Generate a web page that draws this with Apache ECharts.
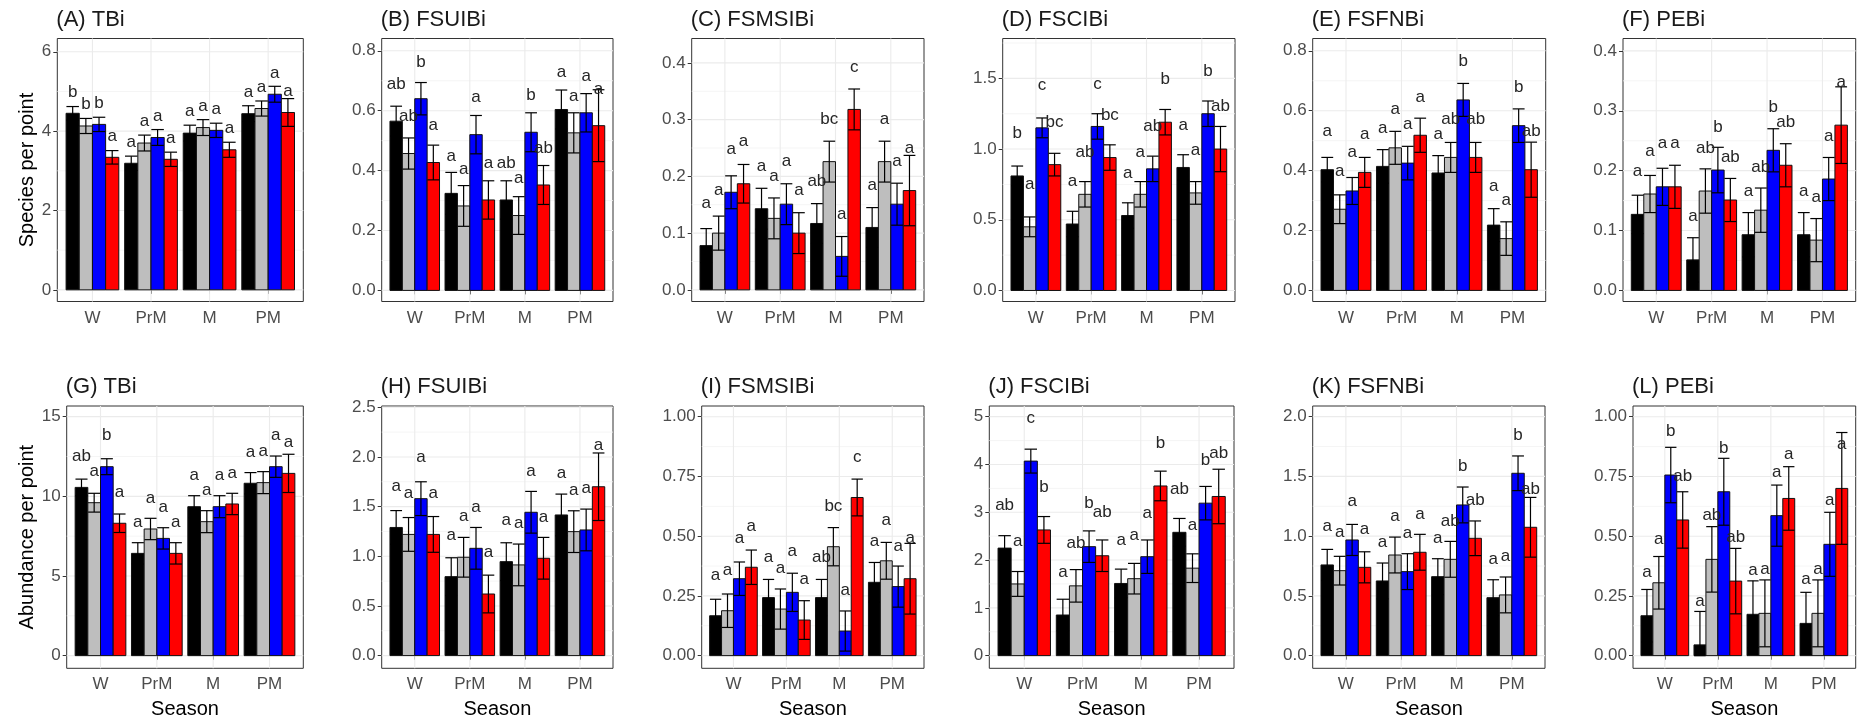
<!DOCTYPE html>
<html><head><meta charset="utf-8">
<script src="https://cdn.jsdelivr.net/npm/echarts@6/dist/echarts.min.js"></script>
<style>html,body{margin:0;padding:0;background:#fff}#c{width:1859px;height:722px}</style>
</head><body><div id="c"></div>
<script>
// ---------------- DATA ----------------
const seasons = ['W', 'PrM', 'M', 'PM'];
// each row = one season; columns = treatments (black, grey, blue, red)
const meanA = [[4.45, 4.13, 4.17, 3.34], [3.19, 3.70, 3.84, 3.29], [3.95, 4.09, 4.02, 3.53], [4.44, 4.57, 4.93, 4.47]];
const seA   = [[0.17, 0.19, 0.18, 0.17], [0.18, 0.20, 0.20, 0.18], [0.20, 0.20, 0.18, 0.19], [0.20, 0.19, 0.20, 0.35]];
const letA  = [['b', 'b', 'b', 'a'], ['a', 'a', 'a', 'a'], ['a', 'a', 'a', 'a'], ['a', 'a', 'a', 'a']];

const meanB = [[0.565, 0.457, 0.640, 0.427], [0.324, 0.282, 0.520, 0.302], [0.302, 0.250, 0.528, 0.352], [0.604, 0.526, 0.593, 0.550]];
const seB   = [[0.050, 0.052, 0.054, 0.058], [0.070, 0.068, 0.064, 0.064], [0.064, 0.063, 0.065, 0.065], [0.065, 0.067, 0.064, 0.120]];
const letB  = [['ab', 'ab', 'b', 'a'], ['a', 'a', 'a', 'a'], ['ab', 'a', 'b', 'ab'], ['a', 'a', 'a', 'a']];

const meanC = [[0.078, 0.100, 0.172, 0.187], [0.143, 0.126, 0.151, 0.100], [0.117, 0.226, 0.059, 0.318], [0.110, 0.226, 0.151, 0.175]];
const seC   = [[0.030, 0.030, 0.029, 0.034], [0.036, 0.036, 0.036, 0.036], [0.035, 0.036, 0.035, 0.036], [0.035, 0.036, 0.037, 0.062]];
const letC  = [['a', 'a', 'a', 'a'], ['a', 'a', 'a', 'a'], ['ab', 'bc', 'a', 'c'], ['a', 'a', 'a', 'a']];

const meanD = [[0.81, 0.45, 1.15, 0.89], [0.47, 0.68, 1.16, 0.94], [0.53, 0.68, 0.86, 1.19], [0.87, 0.69, 1.25, 1.00]];
const seD   = [[0.07, 0.07, 0.07, 0.08], [0.09, 0.09, 0.09, 0.09], [0.09, 0.09, 0.09, 0.09], [0.09, 0.08, 0.09, 0.16]];
const letD  = [['b', 'a', 'c', 'bc'], ['a', 'ab', 'c', 'bc'], ['a', 'a', 'ab', 'b'], ['a', 'a', 'b', 'ab']];

const meanE = [[0.403, 0.271, 0.332, 0.394], [0.414, 0.476, 0.425, 0.518], [0.392, 0.444, 0.636, 0.444], [0.218, 0.173, 0.550, 0.403]];
const seE   = [[0.041, 0.048, 0.045, 0.050], [0.056, 0.055, 0.056, 0.057], [0.058, 0.050, 0.055, 0.050], [0.055, 0.056, 0.056, 0.092]];
const letE  = [['a', 'a', 'a', 'a'], ['a', 'a', 'a', 'a'], ['a', 'ab', 'b', 'ab'], ['a', 'a', 'b', 'ab']];

const meanF = [[0.127, 0.161, 0.173, 0.173], [0.051, 0.166, 0.201, 0.151], [0.093, 0.134, 0.234, 0.209], [0.093, 0.084, 0.186, 0.276]];
const seF   = [[0.032, 0.031, 0.031, 0.036], [0.037, 0.037, 0.038, 0.036], [0.037, 0.037, 0.036, 0.036], [0.037, 0.036, 0.036, 0.064]];
const letF  = [['a', 'a', 'a', 'a'], ['a', 'ab', 'b', 'ab'], ['a', 'ab', 'b', 'ab'], ['a', 'a', 'a', 'a']];

const meanG = [[10.56, 9.60, 11.86, 8.31], [6.42, 7.95, 7.36, 6.42], [9.35, 8.41, 9.35, 9.52], [10.82, 10.86, 11.86, 11.44]];
const seG   = [[0.52, 0.59, 0.50, 0.58], [0.67, 0.67, 0.67, 0.67], [0.69, 0.69, 0.69, 0.67], [0.67, 0.69, 0.67, 1.20]];
const letG  = [['ab', 'a', 'b', 'a'], ['a', 'a', 'a', 'a'], ['a', 'a', 'a', 'a'], ['a', 'a', 'a', 'a']];

const meanH = [[1.29, 1.22, 1.58, 1.22], [0.795, 0.99, 1.08, 0.62], [0.946, 0.913, 1.443, 0.98], [1.416, 1.248, 1.265, 1.70]];
const seH   = [[0.17, 0.17, 0.17, 0.18], [0.19, 0.20, 0.21, 0.19], [0.19, 0.21, 0.21, 0.21], [0.21, 0.21, 0.21, 0.34]];
const letH  = [['a', 'a', 'a', 'a'], ['a', 'a', 'a', 'a'], ['a', 'a', 'a', 'a'], ['a', 'a', 'a', 'a']];

const meanI = [[0.167, 0.188, 0.322, 0.370], [0.243, 0.195, 0.265, 0.149], [0.243, 0.456, 0.103, 0.662], [0.307, 0.397, 0.289, 0.322]];
const seI   = [[0.069, 0.070, 0.070, 0.072], [0.076, 0.084, 0.080, 0.081], [0.076, 0.080, 0.084, 0.077], [0.083, 0.077, 0.086, 0.148]];
const letI  = [['a', 'a', 'a', 'a'], ['a', 'a', 'a', 'a'], ['ab', 'bc', 'a', 'c'], ['a', 'a', 'a', 'a']];

const meanJ = [[2.25, 1.50, 4.07, 2.63], [0.85, 1.46, 2.28, 2.09], [1.51, 1.61, 2.07, 3.55], [2.58, 1.83, 3.19, 3.33]];
const seJ   = [[0.26, 0.26, 0.25, 0.28], [0.33, 0.34, 0.33, 0.33], [0.30, 0.32, 0.35, 0.31], [0.29, 0.30, 0.35, 0.57]];
const letJ  = [['ab', 'a', 'c', 'b'], ['a', 'ab', 'b', 'ab'], ['a', 'a', 'a', 'b'], ['ab', 'a', 'b', 'ab']];

const meanK = [[0.759, 0.711, 0.968, 0.739], [0.625, 0.842, 0.703, 0.865], [0.661, 0.806, 1.261, 0.982], [0.485, 0.508, 1.526, 1.074]];
const seK   = [[0.13, 0.12, 0.13, 0.13], [0.15, 0.15, 0.15, 0.15], [0.15, 0.15, 0.15, 0.145], [0.15, 0.15, 0.145, 0.25]];
const letK  = [['a', 'a', 'a', 'a'], ['a', 'a', 'a', 'a'], ['a', 'ab', 'b', 'ab'], ['a', 'a', 'b', 'ab']];

const meanL = [[0.167, 0.305, 0.756, 0.568], [0.045, 0.403, 0.686, 0.312], [0.173, 0.177, 0.586, 0.658], [0.135, 0.177, 0.466, 0.700]];
const seL   = [[0.110, 0.110, 0.116, 0.118], [0.140, 0.137, 0.140, 0.137], [0.140, 0.140, 0.128, 0.133], [0.130, 0.140, 0.134, 0.234]];
const letL  = [['a', 'a', 'b', 'ab'], ['a', 'ab', 'b', 'ab'], ['a', 'a', 'a', 'a'], ['a', 'a', 'a', 'a']];

// tick values and labels
const ticks6    = [0, 2, 4, 6];          const tickLab6    = ['0', '2', '4', '6'];
const ticks08   = [0, 0.2, 0.4, 0.6, 0.8]; const tickLab08 = ['0.0', '0.2', '0.4', '0.6', '0.8'];
const ticks04   = [0, 0.1, 0.2, 0.3, 0.4]; const tickLab04 = ['0.0', '0.1', '0.2', '0.3', '0.4'];
const ticks15   = [0, 0.5, 1, 1.5];        const tickLab15 = ['0.0', '0.5', '1.0', '1.5'];
const ticks15b  = [0, 5, 10, 15];          const tickLab15b = ['0', '5', '10', '15'];
const ticks25   = [0, 0.5, 1, 1.5, 2, 2.5]; const tickLab25 = ['0.0', '0.5', '1.0', '1.5', '2.0', '2.5'];
const ticks100  = [0, 0.25, 0.5, 0.75, 1]; const tickLab100 = ['0.00', '0.25', '0.50', '0.75', '1.00'];
const ticks5    = [0, 1, 2, 3, 4, 5];      const tickLab5 = ['0', '1', '2', '3', '4', '5'];
const ticks20   = [0, 0.5, 1, 1.5, 2];     const tickLab20 = ['0.0', '0.5', '1.0', '1.5', '2.0'];

// ---------------- LAYOUT / STYLE ----------------
const FONT = 'Liberation Sans, Arial, Helvetica, sans-serif';
const fills = ['#000000', '#BEBEBE', '#0000FF', '#FF0000'];
const DODGE = 0.225, HALF = 0.1125;

const panels = [
  {title: '(A) TBi',    mean: meanA, se: seA, lets: letA, ticks: ticks6,   labs: tickLab6,   range: [-0.294, 6.335], off: 0.54,  rect: [57.3, 38.5, 246, 263], yName: 'Species per point', nameGap: 20},
  {title: '(B) FSUIBi', mean: meanB, se: seB, lets: letB, ticks: ticks08,  labs: tickLab08,  range: [-0.037, 0.841], off: 0.123, rect: [381.7, 38.5, 231.3, 263]},
  {title: '(C) FSMSIBi',mean: meanC, se: seC, lets: letC, ticks: ticks04,  labs: tickLab04,  range: [-0.0205, 0.443], off: 0.075, rect: [691.7, 38.5, 232.3, 263]},
  {title: '(D) FSCIBi', mean: meanD, se: seD, lets: letD, ticks: ticks15,  labs: tickLab15,  range: [-0.078, 1.782], off: 0.30,  rect: [1002.7, 38.5, 232.3, 263]},
  {title: '(E) FSFNBi', mean: meanE, se: seE, lets: letE, ticks: ticks08,  labs: tickLab08,  range: [-0.037, 0.841], off: 0.128, rect: [1312.7, 38.5, 233, 263]},
  {title: '(F) PEBi',   mean: meanF, se: seF, lets: letF, ticks: ticks04,  labs: tickLab04,  range: [-0.0185, 0.4207], off: 0.072, rect: [1623, 38.5, 232.7, 263]},
  {title: '(G) TBi',    mean: meanG, se: seG, lets: letG, ticks: ticks15b, labs: tickLab15b, range: [-0.795, 15.67], off: 1.95,  rect: [66.7, 406, 236.6, 262.3], yName: 'Abundance per point', nameGap: 29, xName: 'Season'},
  {title: '(H) FSUIBi', mean: meanH, se: seH, lets: letH, ticks: ticks25,  labs: tickLab25,  range: [-0.128, 2.513], off: 0.416, rect: [381.7, 406, 231.3, 262.3], xName: 'Season'},
  {title: '(I) FSMSIBi',mean: meanI, se: seI, lets: letI, ticks: ticks100, labs: tickLab100, range: [-0.053, 1.045], off: 0.17,  rect: [701.7, 406, 222.3, 262.3], xName: 'Season'},
  {title: '(J) FSCIBi', mean: meanJ, se: seJ, lets: letJ, ticks: ticks5,   labs: tickLab5,   range: [-0.265, 5.223], off: 0.90,  rect: [989.3, 406, 244.7, 262.3], xName: 'Season'},
  {title: '(K) FSFNBi', mean: meanK, se: seK, lets: letK, ticks: ticks20,  labs: tickLab20,  range: [-0.106, 2.089], off: 0.32,  rect: [1312.7, 406, 232.3, 262.3], xName: 'Season'},
  {title: '(L) PEBi',   mean: meanL, se: seL, lets: letL, ticks: ticks100, labs: tickLab100, range: [-0.053, 1.045], off: 0.183, rect: [1633, 406, 222.7, 262.3], xName: 'Season'}
];

const option = {
  animation: false,
  backgroundColor: '#ffffff',
  textStyle: {fontFamily: FONT},
  title: [], grid: [], xAxis: [], yAxis: [], series: []
};

panels.forEach((p, i) => {
  const [L, T, W, H] = p.rect;
  const lo = p.range[0], hi = p.range[1];
  option.title.push({
    text: p.title, left: L - 1, top: T - 30, padding: 0,
    textStyle: {fontSize: 22, fontWeight: 'normal', color: '#1a1a1a', fontFamily: FONT}
  });
  option.grid.push({
    left: L, top: T, width: W, height: H, containLabel: false,
    show: true, backgroundColor: '#ffffff', borderColor: '#333333', borderWidth: 1
  });
  option.xAxis.push({
    type: 'value', gridIndex: i, min: 0.4, max: 4.6,
    axisLine: {show: false}, splitLine: {show: false},
    axisTick: {show: true, length: 4, lineStyle: {color: '#333333', width: 1}, customValues: [1, 2, 3, 4]},
    axisLabel: {customValues: [1, 2, 3, 4], formatter: v => seasons[Math.round(v) - 1],
      fontSize: 17, color: '#4D4D4D', margin: 8, fontFamily: FONT},
    name: p.xName || '', nameLocation: 'middle', nameGap: 31,
    nameTextStyle: {fontSize: 20, color: '#000000', fontFamily: FONT}
  });
  option.yAxis.push({
    type: 'value', gridIndex: i, min: lo, max: hi,
    axisLine: {show: false}, splitLine: {show: false},
    axisTick: {show: true, length: 4, lineStyle: {color: '#333333', width: 1}, customValues: p.ticks},
    axisLabel: {customValues: p.ticks, formatter: v => {
        const k = p.ticks.findIndex(t => Math.abs(t - v) < 1e-9); return k >= 0 ? p.labs[k] : '';
      }, fontSize: 17, color: '#4D4D4D', margin: 6, fontFamily: FONT},
    name: p.yName || '', nameLocation: 'middle', nameGap: p.nameGap || 30,
    nameTextStyle: {fontSize: 20, color: '#000000', fontFamily: FONT}
  });

  // grid lines (minor, major, vertical) derived from tick arrays
  const step = p.ticks[1] - p.ticks[0];
  const gl = [];
  for (let v = p.ticks[0] - step / 2; v <= hi + 1e-9; v += step) if (v >= lo) gl.push([0, v]);
  p.ticks.forEach(v => gl.push([1, v]));
  [1, 2, 3, 4].forEach(v => gl.push([2, v]));
  option.series.push({
    type: 'custom', xAxisIndex: i, yAxisIndex: i, z: 1, silent: true, data: gl,
    renderItem: (params, api) => {
      const kind = api.value(0), v = api.value(1);
      let a, b;
      if (kind === 2) { a = api.coord([v, lo]); b = api.coord([v, hi]); }
      else { a = api.coord([0.4, v]); b = api.coord([4.6, v]); }
      return {type: 'line', shape: {x1: a[0], y1: a[1], x2: b[0], y2: b[1]},
        style: {stroke: kind === 0 ? '#F3F3F3' : '#EBEBEB', lineWidth: kind === 0 ? 0.8 : 1.1}};
    }
  });

  const items = [];
  for (let s = 0; s < 4; s++) for (let t = 0; t < 4; t++)
    items.push([s + 1 + (t - 1.5) * DODGE, p.mean[s][t], p.se[s][t], t, s]);

  // bars
  option.series.push({
    type: 'custom', xAxisIndex: i, yAxisIndex: i, z: 2, silent: true, data: items,
    encode: {x: 0, y: 1},
    renderItem: (params, api) => {
      const x = api.value(0), m = api.value(1), t = api.value(3);
      const a = api.coord([x - HALF, m]), b = api.coord([x + HALF, 0]);
      return {type: 'rect', shape: {x: a[0], y: a[1], width: b[0] - a[0], height: b[1] - a[1]},
        style: {fill: fills[t], stroke: '#111111', lineWidth: 1}};
    }
  });
  // error bars
  option.series.push({
    type: 'custom', xAxisIndex: i, yAxisIndex: i, z: 3, silent: true, data: items,
    encode: {x: 0, y: 1},
    renderItem: (params, api) => {
      const x = api.value(0), m = api.value(1), se = api.value(2);
      const top = api.coord([x, m + se]), bot = api.coord([x, Math.max(0, m - se)]);
      const l = api.coord([x - HALF * 0.95, 0])[0], r = api.coord([x + HALF * 0.95, 0])[0];
      const st = {stroke: '#000000', lineWidth: 1.2};
      return {type: 'group', children: [
        {type: 'line', shape: {x1: top[0], y1: top[1], x2: bot[0], y2: bot[1]}, style: st},
        {type: 'line', shape: {x1: l, y1: top[1], x2: r, y2: top[1]}, style: st},
        {type: 'line', shape: {x1: l, y1: bot[1], x2: r, y2: bot[1]}, style: st}
      ]};
    }
  });
  // significance letters
  option.series.push({
    type: 'custom', xAxisIndex: i, yAxisIndex: i, z: 4, silent: true, data: items,
    encode: {x: 0, y: 1},
    renderItem: (params, api) => {
      const x = api.value(0), m = api.value(1), t = api.value(3), s = api.value(4);
      const c = api.coord([x, m + p.off]);
      return {type: 'text', x: c[0], y: c[1],
        style: {text: p.lets[s][t], fill: '#262626', font: '17px ' + FONT, align: 'center', verticalAlign: 'middle'}};
    }
  });
});

const chart = echarts.init(document.getElementById('c'), null, {renderer: 'canvas'});
chart.setOption(option);
</script>
</body></html>
